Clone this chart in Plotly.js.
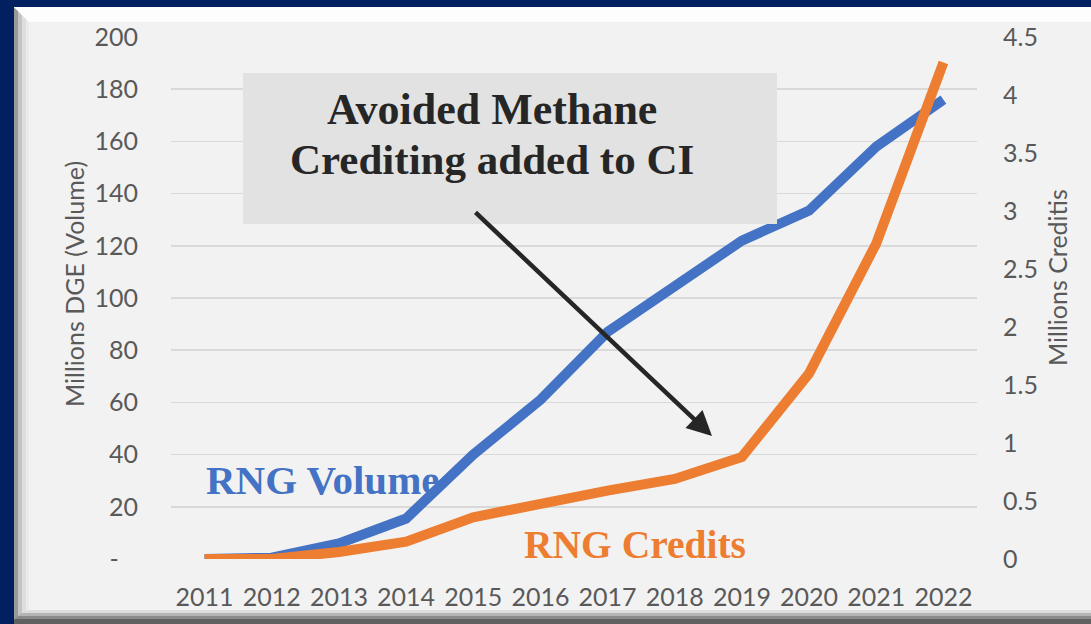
<!DOCTYPE html>
<html>
<head>
<meta charset="utf-8">
<script src="https://cdn.plot.ly/plotly-3.0.1.min.js"></script>
<style>html,body{margin:0;padding:0;background:#002060;}#chart{width:1091px;height:624px;}</style>
</head>
<body>
<div id="chart"></div>
<script>
// ---- data ----
const years = ["2011","2012","2013","2014","2015","2016","2017","2018","2019","2020","2021","2022"];
const rngVolume = [0, 0.5, 6, 15.5, 40, 61, 87, 105, 122, 133.5, 158, 176];      // Millions DGE
const rngCredits = [0, 0, 0.06, 0.15, 0.36, 0.48, 0.59, 0.69, 0.88, 1.6, 2.72, 4.28]; // Millions credits
const leftTickVals = [0, 20, 40, 60, 80, 100, 120, 140, 160, 180, 200];
const leftTickText = ["-\u00a0\u00a0\u00a0", "20", "40", "60", "80", "100", "120", "140", "160", "180", "200"];
const rightTickVals = [0, 0.5, 1, 1.5, 2, 2.5, 3, 3.5, 4, 4.5];
const rightTickText = ["0", "0.5", "1", "1.5", "2", "2.5", "3", "3.5", "4", "4.5"];
const leftTitle = "Millions DGE (Volume)";
const rightTitle = "Millions Creditis";

const W = 1091, H = 624;
const px = x => x / W;
const py = y => 1 - y / H;

const FONT = "Lato, 'Open Sans', sans-serif";
const SERIF = "'Liberation Serif', 'DejaVu Serif', serif";
const GREY = "#595959";

const traces = [
  { x: years, y: rngVolume, type: "scatter", mode: "lines", name: "RNG Volume",
    line: { color: "#4472C4", width: 10 }, yaxis: "y", hoverinfo: "x+y" },
  { x: years, y: rngCredits, type: "scatter", mode: "lines", name: "RNG Credits",
    line: { color: "#ED7D31", width: 10 }, yaxis: "y2", hoverinfo: "x+y" }
];

function rect(x0, y0, x1, y1, color, layer) {
  return { type: "rect", xref: "paper", yref: "paper", x0: px(x0), x1: px(x1), y0: py(y1), y1: py(y0),
           fillcolor: color, line: { width: 0 }, layer: layer || "below" };
}
function poly(pts, color, layer) {
  const d = pts.map((p, i) => (i ? "L" : "M") + px(p[0]) + "," + py(p[1])).join(" ") + " Z";
  return { type: "path", xref: "paper", yref: "paper", path: d, fillcolor: color, line: { width: 0 }, layer: layer || "below" };
}

const shapes = [
  rect(14, 7, 1091, 624, "#f2f2f2"),
  // bottom bevel
  rect(14, 610, 1091, 613, "#dcdcdc"),
  rect(14, 613, 1091, 616, "#b4b4b4"),
  rect(14, 616, 1091, 619, "#8a8a8a"),
  rect(14, 619, 1091, 624, "#606060"),
  // left bevel
  poly([[14, 7], [18, 11], [18, 616], [14, 620]], "#9a9a9a"),
  poly([[18, 11], [22, 15], [22, 612], [18, 616]], "#c4c4c4"),
  poly([[22, 15], [26, 19], [26, 611], [22, 612]], "#dedede"),
  poly([[26, 19], [29, 22], [29, 610], [26, 611]], "#ebebeb"),
  // top bevel
  poly([[14, 7], [1091, 7], [1091, 22], [29, 22]], "#fdfdfd"),
  // callout box
  rect(243, 73, 777, 224, "#e2e2e2", "above")
];

const annotations = [
  { xref: "paper", yref: "paper", x: px(492), y: py(109), text: "<b>Avoided Methane</b>", showarrow: false,
    xanchor: "center", yanchor: "middle", font: { family: SERIF, size: 44, color: "#262626" } },
  { xref: "paper", yref: "paper", x: px(492), y: py(159), text: "<b>Crediting added to CI</b>", showarrow: false,
    xanchor: "center", yanchor: "middle", font: { family: SERIF, size: 43, color: "#262626" } },
  { xref: "paper", yref: "paper", x: px(712), y: py(436), text: "", showarrow: true,
    axref: "pixel", ayref: "pixel", ax: -238, ay: -225, arrowhead: 2, arrowsize: 1.1, arrowwidth: 4.5,
    arrowcolor: "#262626", standoff: 0 },
  { xref: "paper", yref: "paper", x: px(204), y: py(480), text: "<b>RNG Volume</b>", showarrow: false,
    xanchor: "left", yanchor: "middle", font: { family: SERIF, size: 41, color: "#4472C4" } },
  { xref: "paper", yref: "paper", x: px(522), y: py(545), text: "<b>RNG Credits</b>", showarrow: false,
    xanchor: "left", yanchor: "middle", font: { family: SERIF, size: 39.5, color: "#ED7D31" } },
  { xref: "paper", yref: "paper", x: px(74), y: py(284), text: leftTitle, showarrow: false, textangle: -90,
    xanchor: "center", yanchor: "middle", font: { family: FONT, size: 25, color: GREY } },
  { xref: "paper", yref: "paper", x: px(1057), y: py(278), text: rightTitle, showarrow: false, textangle: -90,
    xanchor: "center", yanchor: "middle", font: { family: FONT, size: 25, color: GREY } }
];

const layout = {
  width: W, height: H,
  margin: { l: 0, r: 0, t: 0, b: 0 },
  paper_bgcolor: "#002060",
  plot_bgcolor: "rgba(0,0,0,0)",
  showlegend: false,
  font: { family: FONT, color: GREY, size: 25 },
  xaxis: {
    type: "category", domain: [px(171), px(977)], range: [-0.5, 11.5],
    showgrid: false, zeroline: false, showline: false, ticks: "",
    ticklabelstandoff: 21, tickfont: { family: FONT, size: 25, color: GREY }
  },
  yaxis: {
    domain: [py(559), py(37)], range: [0, 200],
    tickvals: leftTickVals, ticktext: leftTickText,
    showgrid: true, gridcolor: "#d9d9d9", gridwidth: 1.5, zeroline: false, showline: false, ticks: "",
    ticklabelstandoff: 32, tickfont: { family: FONT, size: 25, color: GREY }
  },
  yaxis2: {
    overlaying: "y", side: "right", range: [0, 4.5],
    tickvals: rightTickVals, ticktext: rightTickText,
    showgrid: false, zeroline: false, showline: false, ticks: "",
    ticklabelstandoff: 25, tickfont: { family: FONT, size: 25, color: GREY }
  },
  shapes: shapes,
  annotations: annotations
};

Plotly.newPlot("chart", traces, layout, { displayModeBar: false, staticPlot: true });
</script>
</body>
</html>
